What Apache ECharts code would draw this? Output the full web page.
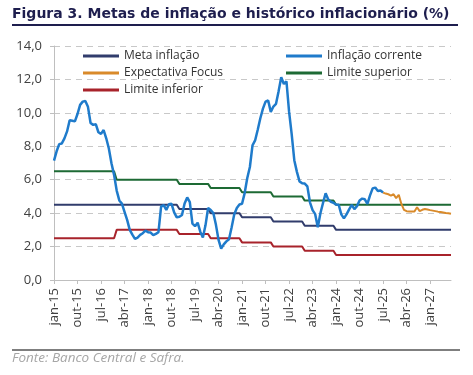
<!DOCTYPE html>
<html>
<head>
<meta charset="utf-8">
<script src="https://cdn.jsdelivr.net/npm/echarts@6/dist/echarts.min.js"></script>
<style>
  html, body { margin: 0; padding: 0; background: #fff; }
  #chart { width: 473px; height: 375px; }
</style>
</head>
<body>
<div id="chart"></div>
<script>
// month names used for the category labels (jan-15 ... set-27)
var monthNames = ["jan", "fev", "mar", "abr", "mai", "jun", "jul", "ago", "set", "out", "nov", "dez"];
var firstYear = 2015;
var monthCount = 153;

// yearly targets 2015..2027
var metaByYear = [4.5, 4.5, 4.5, 4.5, 4.25, 4.0, 3.75, 3.5, 3.25, 3.0, 3.0, 3.0, 3.0];
var superiorByYear = [6.5, 6.5, 6.0, 6.0, 5.75, 5.5, 5.25, 5.0, 4.75, 4.5, 4.5, 4.5, 4.5];
var inferiorByYear = [2.5, 2.5, 3.0, 3.0, 2.75, 2.5, 2.25, 2.0, 1.75, 1.5, 1.5, 1.5, 1.5];

// inflação corrente, jan-15 .. jul-25
var inflacao = [
  7.14, 7.70, 8.13, 8.17, 8.47, 8.89, 9.56, 9.53, 9.49, 9.93, 10.48, 10.67,
  10.71, 10.36, 9.39, 9.28, 9.32, 8.84, 8.74, 8.97, 8.48, 7.87, 6.99, 6.29,
  5.35, 4.76, 4.57, 4.08, 3.60, 3.00, 2.71, 2.46, 2.54, 2.70, 2.80, 2.95,
  2.86, 2.84, 2.68, 2.76, 2.86, 4.39, 4.48, 4.19, 4.53, 4.56, 4.05, 3.75,
  3.78, 3.89, 4.58, 4.94, 4.66, 3.37, 3.22, 3.43, 2.89, 2.54, 3.27, 4.31,
  4.19, 4.01, 3.30, 2.40, 1.88, 2.13, 2.31, 2.44, 3.14, 3.92, 4.31, 4.52,
  4.56, 5.20, 6.10, 6.76, 8.06, 8.35, 8.99, 9.68, 10.25, 10.67, 10.74, 10.06,
  10.38, 10.54, 11.30, 12.13, 11.73, 11.89, 10.07, 8.73, 7.17, 6.47, 5.90, 5.79,
  5.77, 5.60, 4.65, 4.18, 3.94, 3.16, 3.99, 4.61, 5.19, 4.82, 4.68, 4.62,
  4.51, 4.50, 3.93, 3.69, 3.93, 4.23, 4.50, 4.24, 4.42, 4.76, 4.87, 4.83,
  4.56, 5.06, 5.48, 5.53, 5.32, 5.35, 5.23
];

// expectativa Focus, jul-25 .. set-27
var focusStart = 126;
var focus = [
  5.23, 5.17, 5.13, 5.05, 5.13, 4.90, 5.10, 4.55, 4.20, 4.12, 4.10, 4.10,
  4.10, 4.35, 4.12, 4.20, 4.25, 4.22, 4.18, 4.15, 4.12, 4.09, 4.07, 4.04,
  4.01, 3.99, 3.96
];

var categories = [];
var meta = [], superior = [], inferior = [], focusData = [];
for (var i = 0; i < monthCount; i++) {
  var y = Math.floor(i / 12);
  categories.push(monthNames[i % 12] + "-" + String(firstYear + y).slice(-2));
  meta.push(metaByYear[y]);
  superior.push(superiorByYear[y]);
  inferior.push(inferiorByYear[y]);
  focusData.push(i >= focusStart ? focus[i - focusStart] : "-");
}

var font = "'Open Sans', sans-serif";
var chart = echarts.init(document.getElementById("chart"));

var option = {
  animation: false,
  textStyle: { fontFamily: font },
  title: {
    text: "Figura 3. Metas de inflação e histórico inflacionário (%)",
    left: 12,
    top: 7,
    padding: 0,
    textStyle: { fontFamily: "'DejaVu Sans', sans-serif", fontSize: 14, fontWeight: "bold", color: "#1e1e4e" },
  },
  graphic: [
    {
      type: "line",
      shape: { x1: 12, y1: 25, x2: 458, y2: 25 },
      style: { stroke: "#1e1e4e", lineWidth: 2 },
    },
    {
      type: "line",
      shape: { x1: 12, y1: 350, x2: 460, y2: 350 },
      style: { stroke: "#555", lineWidth: 1.5 },
    },
    {
      type: "text",
      left: 12,
      top: 351,
      style: {
        text: "Fonte: Banco Central e Safra.",
        fontFamily: font,
        fontSize: 13.5,
        fontStyle: "italic",
        fill: "#a6a6a6",
      },
    },
  ],
  legend: [
    {
      left: 83,
      top: 49,
      orient: "vertical",
      itemWidth: 36,
      itemHeight: 3,
      itemGap: 3,
      icon: "rect",
      padding: 0,
      textStyle: { fontSize: 12, color: "#333", lineHeight: 14 },
      data: ["Meta inflação", "Expectativa Focus", "Limite inferior"],
    },
    {
      left: 286,
      top: 49,
      orient: "vertical",
      itemWidth: 36,
      itemHeight: 3,
      itemGap: 3,
      icon: "rect",
      padding: 0,
      textStyle: { fontSize: 12, color: "#333", lineHeight: 14 },
      data: ["Inflação corrente", "Limite superior"],
    },
  ],
  grid: { left: 54, right: 22, top: 46, bottom: 95, outerBoundsMode: "none" },
  xAxis: {
    type: "category",
    boundaryGap: false,
    data: categories,
    axisLine: { lineStyle: { color: "#bfbfbf", width: 1 } },
    axisTick: { interval: 8, length: 4, lineStyle: { color: "#bfbfbf" } },
    axisLabel: { interval: 8, rotate: 90, margin: 8, fontSize: 13, color: "#404040" },
  },
  yAxis: {
    type: "value",
    min: 0,
    max: 14,
    interval: 2,
    axisLine: { show: true, lineStyle: { color: "#bfbfbf" } },
    axisTick: { show: true, length: 4, lineStyle: { color: "#bfbfbf" } },
    axisLabel: {
      margin: 12,
      fontSize: 13,
      color: "#404040",
      formatter: function (v) {
        return v.toFixed(1).replace(".", ",");
      },
    },
    splitLine: { lineStyle: { color: "#c8c8c8", type: [6, 5] } },
  },
  series: [
    {
      name: "Meta inflação",
      type: "line",
      symbol: "none",
      data: meta,
      itemStyle: { color: "#313c6c" },
      lineStyle: { width: 2, color: "#313c6c" },
    },
    {
      name: "Limite superior",
      type: "line",
      symbol: "none",
      data: superior,
      itemStyle: { color: "#1d6a34" },
      lineStyle: { width: 2, color: "#1d6a34" },
    },
    {
      name: "Limite inferior",
      type: "line",
      symbol: "none",
      data: inferior,
      itemStyle: { color: "#a8232b" },
      lineStyle: { width: 2, color: "#a8232b" },
    },
    {
      name: "Inflação corrente",
      type: "line",
      symbol: "none",
      data: inflacao,
      itemStyle: { color: "#1f7bcb" },
      lineStyle: { width: 2.5, color: "#1f7bcb" },
    },
    {
      name: "Expectativa Focus",
      type: "line",
      symbol: "none",
      data: focusData,
      itemStyle: { color: "#d98a2a" },
      lineStyle: { width: 2, color: "#d98a2a" },
    },
  ],
};
chart.setOption(option);
</script>
</body>
</html>
